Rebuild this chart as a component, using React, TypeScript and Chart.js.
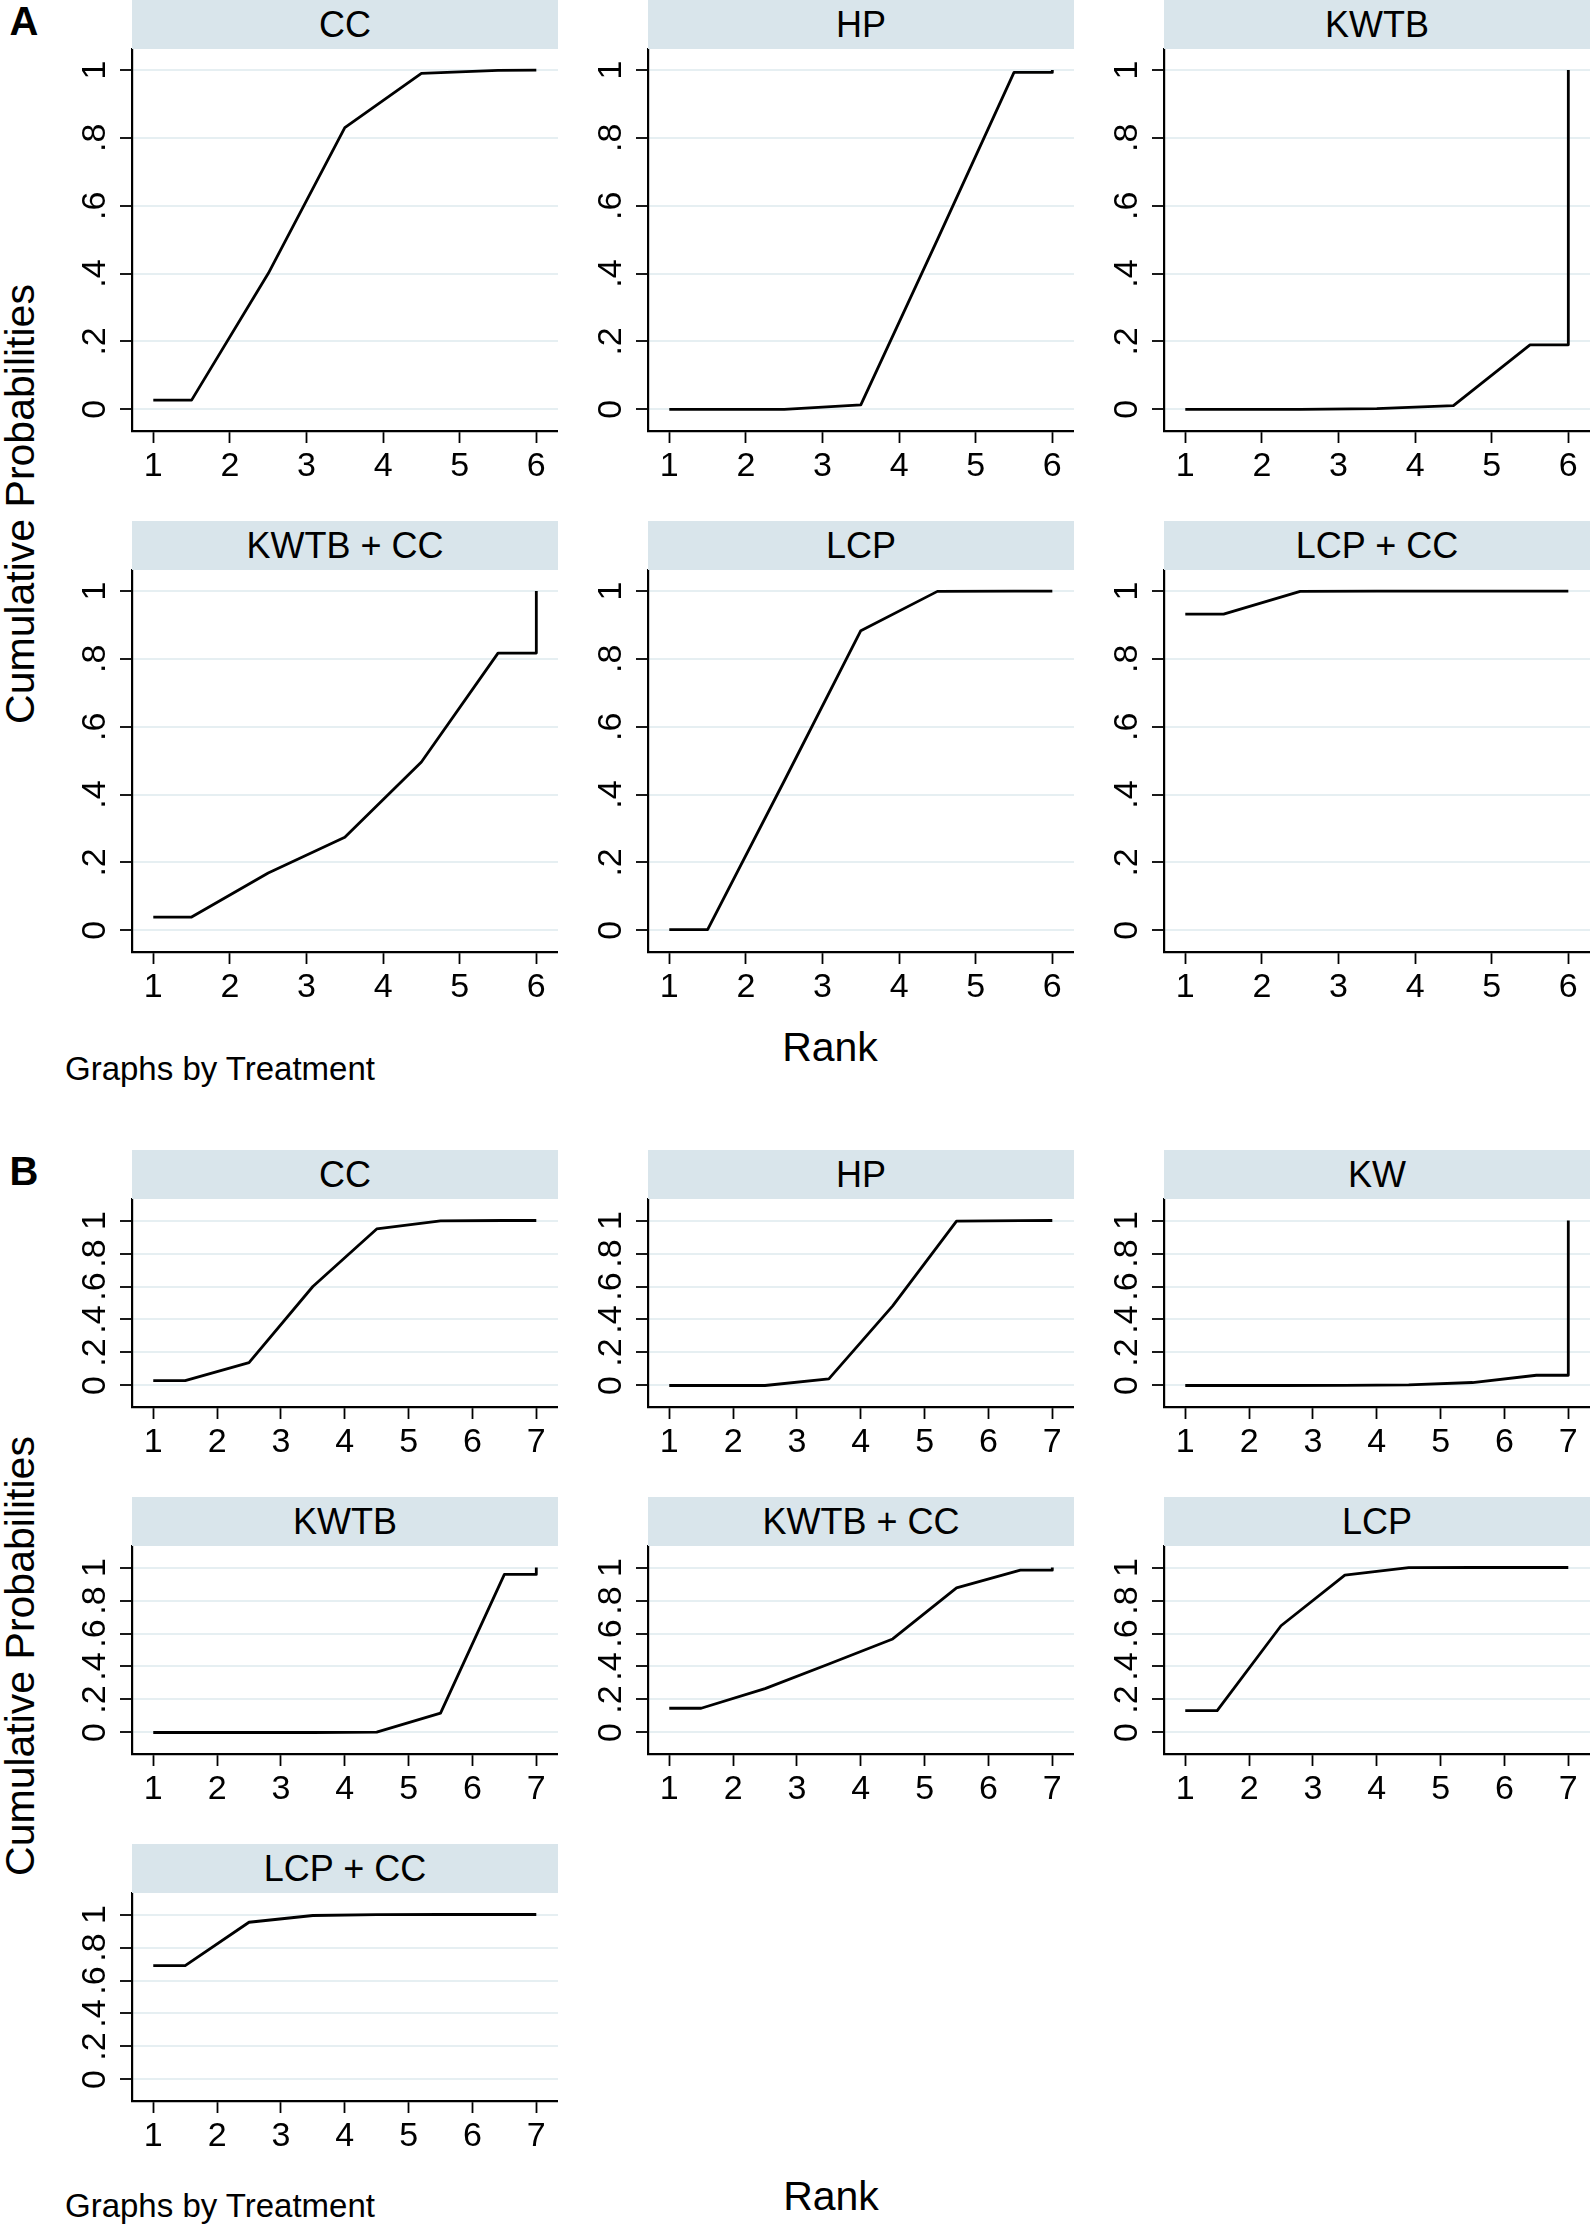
import React, { useEffect, useRef } from "react";
import { Chart, registerables } from "chart.js";

Chart.register(...registerables);

const FONT = "'Liberation Sans', Arial, Helvetica, sans-serif";
const INK = "#000000";
const STRIP_BG = "#d9e5eb";
const GRID = "#e6eff2";

// ---------- Panel A: 6 treatments, ranks 1..6 ----------
const treatmentsA = ["CC", "HP", "KWTB", "KWTB + CC", "LCP", "LCP + CC"];
const rankPointsA = [1, 1.5, 2.5, 3.5, 4.5, 5.5, 6, 6];
const rankTicksA = [1, 2, 3, 4, 5, 6];
const cumProbA_CC = [0.027, 0.027, 0.4, 0.83, 0.99, 0.999, 1, 1];
const cumProbA_HP = [0, 0, 0, 0.013, 0.5, 0.993, 0.993, 1];
const cumProbA_KWTB = [0, 0, 0, 0.002, 0.011, 0.19, 0.19, 1];
const cumProbA_KWTBCC = [0.039, 0.039, 0.169, 0.274, 0.496, 0.817, 0.817, 1];
const cumProbA_LCP = [0.002, 0.002, 0.44, 0.883, 0.999, 1, 1, 1];
const cumProbA_LCPCC = [0.932, 0.932, 0.999, 1, 1, 1, 1, 1];
const seriesA = [cumProbA_CC, cumProbA_HP, cumProbA_KWTB, cumProbA_KWTBCC, cumProbA_LCP, cumProbA_LCPCC];

// ---------- Panel B: 7 treatments, ranks 1..7 ----------
const treatmentsB = ["CC", "HP", "KW", "KWTB", "KWTB + CC", "LCP", "LCP + CC"];
const rankPointsB = [1, 1.5, 2.5, 3.5, 4.5, 5.5, 6.5, 7, 7];
const rankTicksB = [1, 2, 3, 4, 5, 6, 7];
const cumProbB_CC = [0.03, 0.03, 0.139, 0.6, 0.949, 0.998, 1, 1, 1];
const cumProbB_HP = [0, 0, 0, 0.04, 0.483, 0.996, 0.999, 1, 1];
const cumProbB_KW = [0, 0, 0, 0.001, 0.004, 0.018, 0.062, 0.062, 1];
const cumProbB_KWTB = [0, 0, 0, 0, 0.002, 0.117, 0.958, 0.958, 1];
const cumProbB_KWTBCC = [0.147, 0.147, 0.266, 0.415, 0.567, 0.877, 0.984, 0.984, 1];
const cumProbB_LCP = [0.133, 0.133, 0.647, 0.954, 0.999, 1, 1, 1, 1];
const cumProbB_LCPCC = [0.69, 0.69, 0.953, 0.994, 0.999, 1, 1, 1, 1];
const seriesB = [cumProbB_CC, cumProbB_HP, cumProbB_KW, cumProbB_KWTB, cumProbB_KWTBCC, cumProbB_LCP, cumProbB_LCPCC];

const probTicks = [0, 0.2, 0.4, 0.6, 0.8, 1];
const probTickLabels = ["0", ".2", ".4", ".6", ".8", "1"];

// ---------- layout ----------
const COL_LEFT = [132, 648, 1164];
const PLOT_W = 426;
const STRIP_H = 49;
const Y_AXIS_W = 60;
const X_AXIS_H = 60;

const A_ROW_TOP = [0, 521];
const A_PLOT_H = 382;
const A_X_RANGE = [0.722, 6.283];
const A_Y_RANGE = [-0.064, 1.062];

const B_ROW_TOP = [1150, 1497, 1844];
const B_PLOT_H = 208;
const B_X_RANGE = [0.667, 7.34];
const B_Y_RANGE = [-0.1304, 1.1304];

type PanelProps = {
  left: number;
  top: number;
  plotH: number;
  title: string;
  xs: number[];
  ys: number[];
  xRange: number[];
  xTicks: number[];
  yRange: number[];
};

function Panel({ left, top, plotH, title, xs, ys, xRange, xTicks, yRange }: PanelProps) {
  const ref = useRef<HTMLCanvasElement>(null);
  const W = Y_AXIS_W + PLOT_W;
  const H = STRIP_H + plotH + X_AXIS_H;

  useEffect(() => {
    if (!ref.current) return;
    const chart = new Chart(ref.current, {
      type: "scatter",
      data: {
        datasets: [
          {
            data: xs.map((x, i) => ({ x, y: ys[i] })),
            showLine: true,
            borderColor: INK,
            borderWidth: 2.8,
            borderJoinStyle: "round",
            pointRadius: 0,
            pointHoverRadius: 0,
            tension: 0,
            fill: false,
          } as any,
        ],
      },
      options: {
        responsive: false,
        animation: false,
        events: [],
        layout: { padding: { top: STRIP_H, left: 0, right: 0, bottom: 0 } },
        plugins: {
          legend: { display: false },
          tooltip: { enabled: false },
          title: { display: false },
        },
        scales: {
          x: {
            type: "linear",
            position: "bottom",
            min: xRange[0],
            max: xRange[1],
            afterBuildTicks: (s: any) => {
              s.ticks = xTicks.map((v) => ({ value: v }));
            },
            afterFit: (s: any) => {
              s.height = X_AXIS_H;
            },
            grid: {
              drawOnChartArea: false,
              drawTicks: true,
              tickLength: 12,
              tickColor: INK,
              tickWidth: 1.8,
            },
            border: { display: true, color: INK, width: 2.2 },
            ticks: {
              autoSkip: false,
              minRotation: 0,
              maxRotation: 0,
              padding: 3,
              color: INK,
              font: { family: FONT, size: 34 },
              callback: (v: any) => String(v),
            },
          },
          y: {
            type: "linear",
            position: "left",
            min: yRange[0],
            max: yRange[1],
            afterBuildTicks: (s: any) => {
              s.ticks = probTicks.map((v) => ({ value: v }));
            },
            afterFit: (s: any) => {
              s.width = Y_AXIS_W;
            },
            grid: {
              color: GRID,
              lineWidth: 2,
              drawTicks: true,
              tickLength: 12,
              tickColor: INK,
              tickWidth: 1.8,
            },
            border: { display: true, color: INK, width: 2.2 },
            ticks: {
              autoSkip: false,
              minRotation: 90,
              maxRotation: 90,
              crossAlign: "center",
              padding: 10,
              color: INK,
              font: { family: FONT, size: 34 },
              callback: (v: any) => {
                const i = probTicks.indexOf(Number(v));
                return i >= 0 ? probTickLabels[i] : "";
              },
            },
          },
        },
      } as any,
    });
    return () => chart.destroy();
  }, []);

  return (
    <>
      <canvas
        ref={ref}
        width={W}
        height={H}
        style={{ position: "absolute", left: left - Y_AXIS_W, top, width: W, height: H }}
      />
      <div
        style={{
          position: "absolute",
          left,
          top,
          width: PLOT_W,
          height: STRIP_H,
          background: STRIP_BG,
          display: "flex",
          alignItems: "center",
          justifyContent: "center",
          fontFamily: FONT,
          fontSize: 36,
          lineHeight: "36px",
          color: INK,
          whiteSpace: "nowrap",
        }}
      >
        {title}
      </div>
    </>
  );
}

function Label({
  text,
  cx,
  cy,
  size,
  bold,
  rotate,
  alignLeft,
}: {
  text: string;
  cx: number;
  cy: number;
  size: number;
  bold?: boolean;
  rotate?: boolean;
  alignLeft?: boolean;
}) {
  const tx = alignLeft ? "0" : "-50%";
  return (
    <div
      style={{
        position: "absolute",
        left: cx,
        top: cy,
        transform: `translate(${tx}, -50%)${rotate ? " rotate(-90deg)" : ""}`,
        transformOrigin: rotate ? "center center" : undefined,
        fontFamily: FONT,
        fontSize: size,
        lineHeight: `${size}px`,
        fontWeight: bold ? 700 : 400,
        color: INK,
        whiteSpace: "nowrap",
      }}
    >
      {text}
    </div>
  );
}

export default function App() {
  return (
    <div
      style={{
        position: "absolute",
        left: 0,
        top: 0,
        width: 1590,
        height: 2226,
        background: "#ffffff",
        overflow: "hidden",
      }}
    >
      {treatmentsA.map((t, i) => (
        <Panel
          key={"A" + t}
          left={COL_LEFT[i % 3]}
          top={A_ROW_TOP[Math.floor(i / 3)]}
          plotH={A_PLOT_H}
          title={t}
          xs={rankPointsA}
          ys={seriesA[i]}
          xRange={A_X_RANGE}
          xTicks={rankTicksA}
          yRange={A_Y_RANGE}
        />
      ))}
      {treatmentsB.map((t, i) => (
        <Panel
          key={"B" + t}
          left={COL_LEFT[i % 3]}
          top={B_ROW_TOP[Math.floor(i / 3)]}
          plotH={B_PLOT_H}
          title={t}
          xs={rankPointsB}
          ys={seriesB[i]}
          xRange={B_X_RANGE}
          xTicks={rankTicksB}
          yRange={B_Y_RANGE}
        />
      ))}

      <Label text="A" cx={24} cy={21} size={40} bold />
      <Label text="B" cx={24} cy={1171} size={40} bold />

      <Label text="Cumulative Probabilities" cx={20} cy={504} size={41} rotate />
      <Label text="Cumulative Probabilities" cx={20} cy={1656} size={41} rotate />

      <Label text="Rank" cx={830} cy={1047} size={41} />
      <Label text="Rank" cx={831} cy={2196} size={41} />

      <Label text="Graphs by Treatment" cx={65} cy={1068} size={33} alignLeft />
      <Label text="Graphs by Treatment" cx={65} cy={2205} size={33} alignLeft />
    </div>
  );
}
